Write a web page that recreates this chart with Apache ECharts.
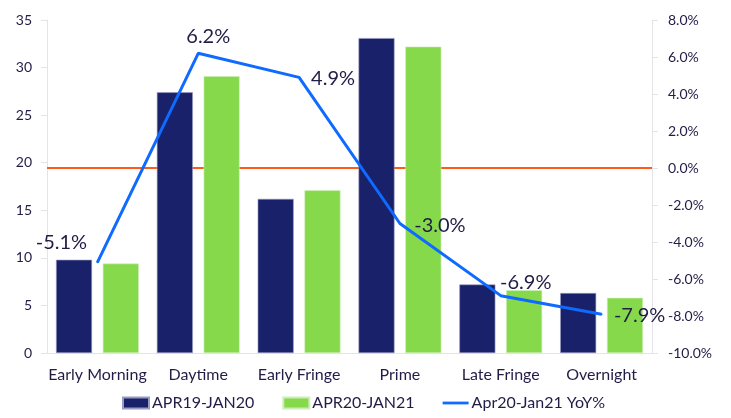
<!DOCTYPE html>
<html>
<head>
<meta charset="utf-8">
<script src="https://cdn.jsdelivr.net/npm/echarts@6/dist/echarts.min.js"></script>
<style>html,body{margin:0;padding:0;background:#fff;}#c{width:731px;height:418px;}</style>
</head>
<body>
<div id="c"></div>
<script>
var categories = ['Early Morning', 'Daytime', 'Early Fringe', 'Prime', 'Late Fringe', 'Overnight'];
var seriesNames = ['APR19-JAN20', 'APR20-JAN21', 'Apr20-Jan21 YoY%'];
var apr19 = [9.8, 27.4, 16.2, 33.1, 7.2, 6.3];
var apr20 = [9.4, 29.1, 17.1, 32.2, 6.6, 5.8];
var yoy = [-5.1, 6.2, 4.9, -3.0, -6.9, -7.9];
var leftTicks = {min: 0, max: 35, interval: 5};
var rightTicks = {min: -10, max: 8, interval: 2};

// label offsets (style only)
var labelOffsets = [[-36, -20], [10, -17], [34, 1], [40, 2], [25, -13], [38, 1]];

var FONT = 'Lato';
var TXT = '#221c46';
var chart = echarts.init(document.getElementById('c'), null, {renderer: 'canvas'});
var lineData = yoy.map(function (v, i) {
  return {
    value: v,
    label: {
      show: true,
      position: [labelOffsets[i][0] + 1, labelOffsets[i][1] + 1],
      align: 'center',
      verticalAlign: 'middle',
      formatter: function (p) { return p.value.toFixed(1) + '%'; },
      fontSize: 20,
      fontFamily: FONT,
      color: TXT
    }
  };
});
chart.setOption({
  animation: false,
  textStyle: {fontFamily: FONT},
  grid: {left: 47, right: 79, top: 20, bottom: 65},
  legend: {
    bottom: 2,
    left: 117,
    itemWidth: 26,
    itemHeight: 11,
    itemGap: 28,
    textStyle: {fontSize: 16, color: TXT, fontFamily: FONT, padding: [0, 0, 0, -2]},
    data: [
      {name: seriesNames[0], icon: 'rect'},
      {name: seriesNames[1], icon: 'rect'},
      {name: seriesNames[2], icon: 'path://M0,0H28V3H0Z'}
    ]
  },
  xAxis: {
    type: 'category',
    data: categories,
    axisLine: {show: true, lineStyle: {color: '#e4e4e8', width: 1}},
    axisTick: {show: false},
    axisLabel: {interval: 0, fontSize: 16, color: TXT, fontFamily: FONT, margin: 14}
  },
  yAxis: [
    {
      type: 'value', min: leftTicks.min, max: leftTicks.max, interval: leftTicks.interval,
      axisLine: {show: true, lineStyle: {color: '#e4e4e8'}},
      axisTick: {show: true, length: 6, lineStyle: {color: '#e4e4e8'}},
      splitLine: {show: false},
      axisLabel: {fontSize: 14, color: TXT, fontFamily: FONT, margin: 15}
    },
    {
      type: 'value', min: rightTicks.min, max: rightTicks.max, interval: rightTicks.interval,
      position: 'right',
      axisLine: {show: true, lineStyle: {color: '#e4e4e8'}},
      axisTick: {show: true, length: 6, lineStyle: {color: '#e4e4e8'}},
      splitLine: {show: false},
      axisLabel: {fontSize: 14, color: TXT, fontFamily: FONT, margin: 16,
        formatter: function (v) { return v.toFixed(1) + '%'; }}
    }
  ],
  series: [
    {
      name: seriesNames[0], type: 'bar', data: apr19, barWidth: 36, barGap: '30%',
      itemStyle: {color: '#18216a', borderColor: '#9a9cc0', borderWidth: 0.6}
    },
    {
      name: seriesNames[1], type: 'bar', data: apr20, barWidth: 36,
      itemStyle: {color: '#86d94a', borderColor: '#cdeeb8', borderWidth: 0.6}
    },
    {
      name: seriesNames[2], type: 'line', yAxisIndex: 1, data: lineData, z: 5,
      symbol: 'circle', symbolSize: 2, showSymbol: true,
      itemStyle: {color: '#0f6bff'},
      lineStyle: {color: '#0f6bff', width: 3},
      markLine: {
        silent: true, z: 1, symbol: ['none', 'none'],
        label: {show: false},
        lineStyle: {color: '#ff5a1a', width: 2, type: 'solid'},
        data: [{yAxis: 0}]
      }
    }
  ]
});
</script>
</body>
</html>
